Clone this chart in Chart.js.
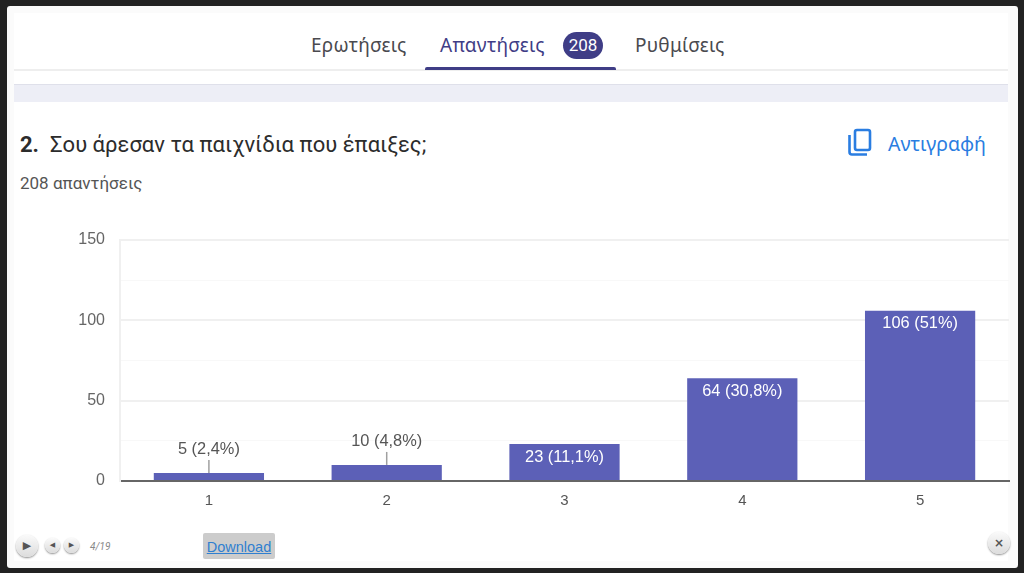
<!DOCTYPE html>
<html lang="el">
<head>
<meta charset="utf-8">
<title>Σου άρεσαν τα παιχνίδια που έπαιξες;</title>
<script src="https://cdn.jsdelivr.net/npm/chart.js@4"></script>
<style>
html,body{margin:0;padding:0;width:1024px;height:573px;overflow:hidden;background:#222;}
#card{position:absolute;left:7px;top:6px;width:1011px;height:562px;background:#fbfbfb;border-radius:3px;}
#page{position:absolute;left:14px;top:13px;width:994px;height:548px;background:#fff;}
canvas{position:absolute;left:0;top:0;}
.t{position:absolute;white-space:nowrap;line-height:1;}
.tab{font-family:"Noto Sans",sans-serif;font-size:19px;top:36px;color:#4a4a4f;letter-spacing:.25px;}
.line{position:absolute;}
.btn{position:absolute;border-radius:50%;background:linear-gradient(#fafafa,#dcdcdc);box-shadow:0 1px 2px rgba(0,0,0,.45);color:#555;text-align:center;font-family:"DejaVu Sans",sans-serif;}
</style>
</head>
<body>
<div id="card"></div>
<div id="page"></div>
<div class="line" style="left:14px;top:69px;width:994px;height:2px;background:#eeeeee"></div>
<div class="line" style="left:425px;top:67px;width:191px;height:3px;background:#3f3d86;border-radius:2px 2px 0 0"></div>
<div class="line" style="left:14px;top:84px;width:994px;height:18px;background:#edeef6;border-top:1px solid #dfe0ea;box-sizing:border-box"></div>
<div class="t tab" style="left:311px">Ερωτήσεις</div>
<div class="t tab" style="left:440px;color:#3f3d86">Απαντήσεις</div>
<div class="t" style="left:563px;top:32px;width:40px;height:27px;border-radius:14px;background:#3f3d86;color:#fff;font:17px/27px Roboto,sans-serif;text-align:center">208</div>
<div class="t tab" style="left:635px">Ρυθμίσεις</div>
<div class="t" style="left:20px;top:132px;font:22px Roboto,sans-serif;color:#2c2c2c"><b>2.</b><span style="margin-left:11px">Σου άρεσαν τα παιχνίδια που έπαιξες;</span></div>
<div class="t" style="left:20px;top:173px;font:17px Roboto,sans-serif;color:#555">208 απαντήσεις</div>
<svg style="position:absolute;left:847px;top:128px" width="26" height="29" viewBox="0 0 26 29" fill="none" stroke="#2a7de1" stroke-width="2.6">
<rect x="8" y="2" width="15" height="20" rx="2"/><path d="M2.5 7v17a2.5 2.5 0 0 0 2.5 2.5h15"/></svg>
<div class="t" style="left:888px;top:130px;font:19.5px 'Noto Sans',sans-serif;color:#2a7de1">Αντιγραφή</div>
<div class="btn" style="left:16px;top:535px;width:22px;height:22px;font-size:11px;line-height:22px">▶</div>
<div class="btn" style="left:45px;top:538px;width:15px;height:15px;font-size:7px;line-height:15px">◀</div>
<div class="btn" style="left:64px;top:538px;width:15px;height:15px;font-size:7px;line-height:15px">▶</div>
<div class="t" style="left:90px;top:541px;font:italic 10px Roboto,sans-serif;color:#888">4/19</div>
<div class="t" style="left:203px;top:533px;width:72px;height:26px;background:#cccccc;border-radius:2px;font:14.5px/29px 'Liberation Sans',sans-serif;color:#2f7fd0;text-align:center;text-decoration:underline">Download</div>
<div class="btn" style="left:988px;top:532px;width:22px;height:22px;font-size:12px;line-height:22px;font-weight:bold">×</div>
<canvas id="chart" width="1024" height="573"></canvas>
<script>
'use strict'

const categories = ['1', '2', '3', '4', '5'];
const counts = [5, 10, 23, 64, 106];
const barLabels = ['5 (2,4%)', '10 (4,8%)', '23 (11,1%)', '64 (30,8%)', '106 (51%)'];
const labelledTicks = [0, 50, 100, 150];

const sansFamily = '"Liberation Sans", Arial, sans-serif';

// bar labels: white inside tall bars, grey with a leader line over short ones
const barLabelPlugin = {
  id: 'barLabels',
  afterDatasetsDraw(chart) {
    const ctx = chart.ctx;
    const bars = chart.getDatasetMeta(0).data;
    ctx.save();
    ctx.font = '16.4px ' + sansFamily;
    ctx.textAlign = 'center';
    ctx.textBaseline = 'middle';
    bars.forEach((bar, i) => {
      if (counts[i] < 20) {
        ctx.strokeStyle = '#a0a0a0';
        ctx.lineWidth = 1.5;
        ctx.beginPath();
        ctx.moveTo(bar.x, bar.y);
        ctx.lineTo(bar.x, bar.y - 13);
        ctx.stroke();
        ctx.fillStyle = '#555555';
        ctx.fillText(barLabels[i], bar.x, bar.y - 23);
      } else {
        ctx.fillStyle = '#ffffff';
        ctx.fillText(barLabels[i], bar.x, bar.y + 13);
      }
    });
    ctx.restore();
  }
};

new Chart(document.getElementById('chart'), {
  type: 'bar',
  data: {
    labels: categories,
    datasets: [{
      data: counts,
      backgroundColor: '#5c60b7',
      categoryPercentage: 0.62,
      barPercentage: 1
    }]
  },
  options: {
    responsive: false,
    animation: false,
    layout: { padding: { top: 240, right: 15, left: 0, bottom: 0 } },
    plugins: { legend: { display: false }, tooltip: { enabled: false } },
    scales: {
      x: {
        afterFit(axis) { axis.height = 92; },
        grid: { display: false, drawTicks: false },
        border: { color: '#666666', width: 2 },
        ticks: { color: '#555555', font: { family: sansFamily, size: 15 }, padding: 11 }
      },
      y: {
        min: 0,
        max: 150,
        afterFit(axis) { axis.width = 120; },
        grid: {
          drawTicks: false,
          lineWidth: c => labelledTicks.includes(c.tick.value) ? 2 : 1,
          color: c => labelledTicks.includes(c.tick.value) ? '#f0f0f0' : '#f8f8f8'
        },
        border: { color: '#f0f0f0', width: 2 },
        ticks: {
          stepSize: 25,
          color: '#666666',
          font: { family: sansFamily, size: 16 },
          padding: 15,
          callback: v => labelledTicks.includes(v) ? v : ''
        }
      }
    }
  },
  plugins: [barLabelPlugin]
});
</script>
</body>
</html>
